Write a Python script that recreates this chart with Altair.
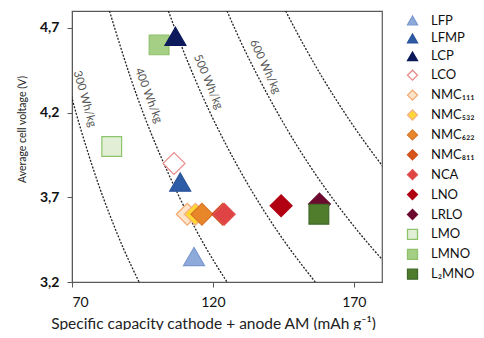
import altair as alt
import pandas as pd

# ---- material points ----
names = ["LFP", "LFMP", "LCP", "LCO", "NMC₁₁₁", "NMC₅₃₂", "NMC₆₂₂", "NMC₈₁₁",
         "NCA", "LNO", "LRLO", "LMO", "LMNO", "L₂MNO"]
capacity = [113.3, 108.4, 106.7, 106.2, 110.9, 113.8, 116.1, 123.5,
            124.0, 144.2, 157.8, 84.1, 100.9, 157.6]
voltage = [3.35, 3.79, 4.65, 3.90, 3.60, 3.60, 3.60, 3.60,
           3.60, 3.65, 3.66, 4.00, 4.60, 3.60]
family = ["olivine"] * 3 + ["layered"] * 8 + ["spinel"] * 3

# styles (scale ranges)
shapes = ["triangle-up"] * 3 + ["diamond"] * 8 + ["square"] * 3
fills = ["#8eaadb", "#2e5da8", "#0c1a5c", "#ffffff", "#fde3c8", "#ffd733",
         "#e8862a", "#d9541a", "#e04343", "#b00012", "#6b0a2e",
         "#e3eed7", "#a5cf85", "#4f7d2c"]
strokes = ["#7a98cf", "#2a5298", "#0c1a5c", "#e98a8a", "#f2a86f", "#f4b183",
           "#d9772a", "#d0501a", "#e05050", "#b00012", "#6b0a2e",
           "#8cc46a", "#8fc06a", "#40692a"]

# ---- iso-energy curves: capacity read at each voltage ----
voltage_grid = [3.2, 3.4, 3.6, 3.8, 4.0, 4.2, 4.4, 4.6, 4.8]
curve_300 = [93.8, 88.2, 83.3, 78.9, 75.0, 71.4, 68.2, 65.2, 62.5]
curve_400 = [125.0, 117.6, 111.1, 105.3, 100.0, 95.2, 90.9, 87.0, 83.3]
curve_500 = [156.3, 147.1, 138.9, 131.6, 125.0, 119.0, 113.6, 108.7, 104.2]
curve_600 = [187.5, 176.5, 166.7, 157.9, 150.0, 142.9, 136.4, 130.4, 125.0]
curve_700 = [218.8, 205.9, 194.4, 184.2, 175.0, 166.7, 159.1, 152.2, 145.8]

curve_labels = ["300 Wh/kg", "400 Wh/kg", "500 Wh/kg", "600 Wh/kg"]
label_cap = [74.4, 97.0, 118.2, 138.4]
label_volt = [4.28, 4.30, 4.38, 4.47]
label_angle = [74, 69, 67, 65]

x_ticks = [70, 120, 170]
y_ticks = [3.2, 3.7, 4.2, 4.7]

# ---- tables ----
pts = pd.DataFrame({"name": names, "cap": capacity, "volt": voltage, "fam": family})
rows = []
for e, caps in [(300, curve_300), (400, curve_400), (500, curve_500),
                (600, curve_600), (700, curve_700)]:
    for v, c in zip(voltage_grid, caps):
        rows.append({"energy": e, "cap": c, "volt": v})
curves = pd.DataFrame(rows)
labels = pd.DataFrame({"txt": curve_labels, "cap": label_cap, "volt": label_volt,
                       "ang": label_angle})

FONT = "Lato"
x_scale = alt.Scale(domain=[70, 180], nice=False, zero=False)
y_scale = alt.Scale(domain=[3.2, 4.8], nice=False, zero=False)

x_enc = alt.X("cap:Q", scale=x_scale,
              title="Specific capacity cathode + anode AM (mAh g⁻¹)",
              axis=alt.Axis(values=x_ticks, grid=False, tickSize=5, labelPadding=8,
                            titlePadding=7, labelFontSize=14, titleFontSize=15.5,
                            labelColor="#111", titleColor="#222", titleX=141,
                            titleFontWeight="normal", domainColor="#595959",
                            tickColor="#595959", labelFont=FONT, titleFont=FONT))
y_enc = alt.Y("volt:Q", scale=y_scale, title="Average cell voltage (V)",
              axis=alt.Axis(values=y_ticks, grid=False, tickSize=5, labelPadding=8,
                            titlePadding=12, labelFontSize=14, titleFontSize=10.5,
                            labelColor="#111", titleColor="#222", titleY=118,
                            titleFontWeight="normal", domainColor="#595959",
                            tickColor="#595959", labelFont=FONT, titleFont=FONT,
                            labelFontWeight="bold",
                            labelExpr="replace(format(datum.value, '.1f'), '.', ',')"))

curve_layer = alt.Chart(curves).mark_line(
    strokeDash=[2, 1.5], color="#222", strokeWidth=1.3, clip=True,
    interpolate="monotone").encode(x=x_enc, y=y_enc, detail="energy:N")

label_layer = alt.Chart(labels).mark_text(
    font=FONT, fontSize=11.5, color="#555", align="center", baseline="middle").encode(
    x=x_enc, y=y_enc, text="txt:N", angle=alt.Angle("ang:Q", scale=None))

legend = alt.Legend(title=None, orient="none", legendX=334, legendY=3,
                    symbolSize=100, labelFontSize=13, labelFont=FONT,
                    labelColor="#111", rowPadding=2.9, labelOffset=12,
                    symbolStrokeWidth=1.3)

enc = dict(
    x=x_enc, y=y_enc,
    shape=alt.Shape("name:N", scale=alt.Scale(domain=names, range=shapes), legend=legend),
    fill=alt.Fill("name:N", scale=alt.Scale(domain=names, range=fills), legend=legend),
    stroke=alt.Stroke("name:N", scale=alt.Scale(domain=names, range=strokes), legend=legend),
)

base_pts = alt.Chart(pts)
diamonds = base_pts.transform_filter(alt.datum.fam == "layered").mark_point(
    filled=True, opacity=1, strokeWidth=1.2, size=480).encode(**enc)
squares = base_pts.transform_filter(alt.datum.fam == "spinel").mark_point(
    filled=True, opacity=1, strokeWidth=1.2, size=390).encode(**enc)
triangles = base_pts.transform_filter(alt.datum.fam == "olivine").mark_point(
    filled=True, opacity=1, strokeWidth=1.2, size=440).encode(**enc)

chart = alt.layer(curve_layer, label_layer, diamonds, squares, triangles).properties(
    width=310, height=271,
    autosize=alt.AutoSizeParams(type="none"),
    padding={"left": 64, "top": 3, "right": 94, "bottom": 48},
).configure_view(stroke="#595959", strokeWidth=1.2)

chart.save("out.html", embed_options={"renderer": "svg", "actions": False})
